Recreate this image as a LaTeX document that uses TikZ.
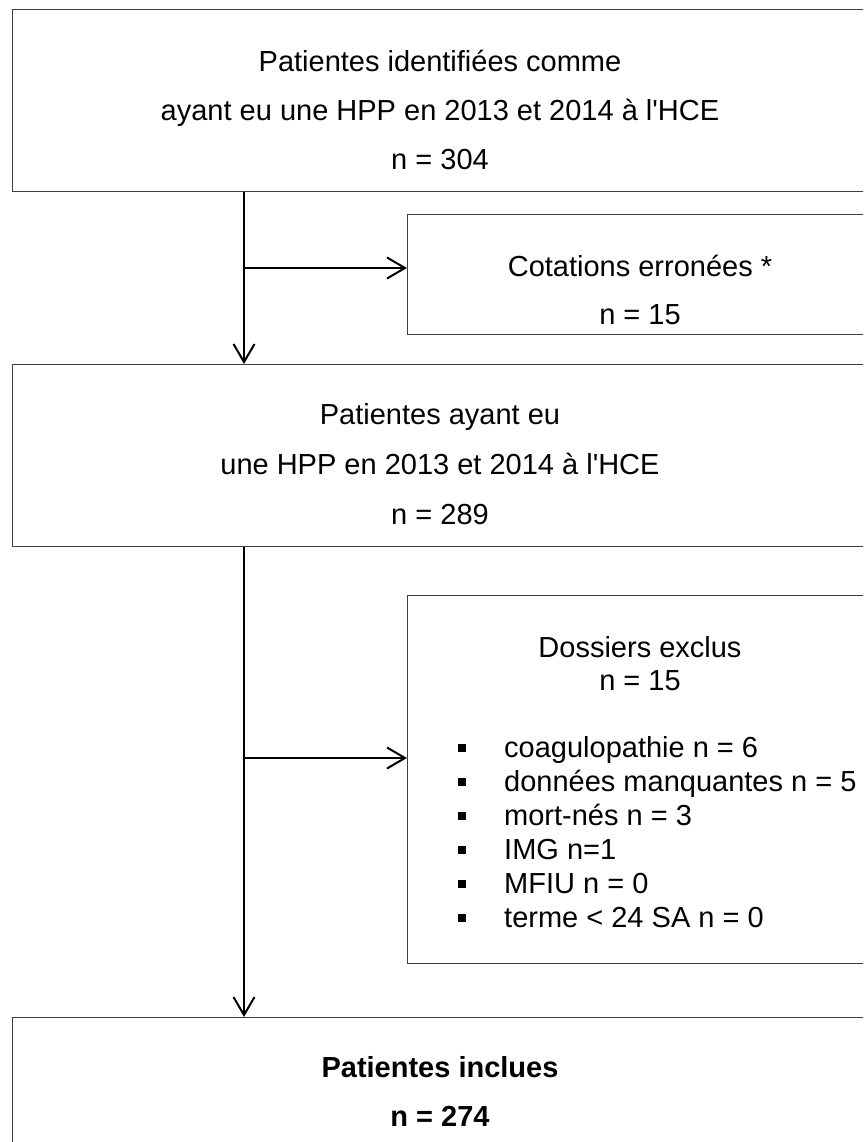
\documentclass[tikz,border=0pt]{standalone}
\usepackage{fontspec}
\newfontfamily\arialf{Liberation Sans}
\usetikzlibrary{arrows.meta}
\begin{document}
\begin{tikzpicture}[x=1pt,y=-1pt,
  box/.style={draw=black!75, line width=1.1pt, inner sep=0pt, anchor=north west, minimum width=858pt},
  txt/.style={font=\arialf\fontsize{29}{34}\selectfont, inner sep=0pt, anchor=base},
  btxt/.style={font=\arialf\bfseries\fontsize{29}{34}\selectfont, inner sep=0pt, anchor=base},
  itemtxt/.style={txt, anchor=base west},
  bullet/.style={fill=black, inner sep=0pt, minimum size=8.5pt},
  link/.style={draw=black, line width=2pt},
  arr/.style={link, -{Straight Barb[length=18pt,width=21pt,line width=2pt]}}]
\useasboundingbox (0,0) rectangle (863,1142);
\clip (0,0) rectangle (863,1142);
% boxes
\node[box, minimum height=182pt] (top) at (12,9) {};
\node[box, minimum height=120pt, minimum width=463pt] (cot) at (407,214) {};
\node[box, minimum height=182pt] (mid) at (12,364) {};
\node[box, minimum height=368pt, minimum width=463pt] (dos) at (407,595) {};
\node[box, minimum height=182pt] (bot) at (12,1017) {};
% texts
\node[txt] (t1) at (440,72) {Patientes identifiées comme};
\node[txt] (t2) at (440,121) {ayant eu une HPP en 2013 et 2014 à l'HCE};
\node[txt] (t3) at (440,170) {n = 304};
\node[txt] (c1) at (640,276) {Cotations erronées *};
\node[txt] (c2) at (640,324) {n = 15};
\node[txt] (m1) at (440,424) {Patientes ayant eu};
\node[txt] (m2) at (440,474) {une HPP en 2013 et 2014 à l'HCE};
\node[txt] (m3) at (440,524) {n = 289};
\node[txt] (d1) at (640,657) {Dossiers exclus};
\node[txt] (d2) at (640,690) {n = 15};
\node[bullet] (b1) at (462,748) {};
\node[bullet] (b2) at (462,782) {};
\node[bullet] (b3) at (462,816) {};
\node[bullet] (b4) at (462,850) {};
\node[bullet] (b5) at (462,884) {};
\node[bullet] (b6) at (462,918) {};
\node[itemtxt] (i1) at (504,757) {coagulopathie n = 6};
\node[itemtxt] (i2) at (504,791) {données manquantes n = 5};
\node[itemtxt] (i3) at (504,825) {mort-nés n = 3};
\node[itemtxt] (i4) at (504,859) {IMG n=1};
\node[itemtxt] (i5) at (504,893) {MFIU n = 0};
\node[itemtxt] (i6) at (504,927) {terme < 24 SA n = 0};
\node[btxt] (f1) at (440,1077) {Patientes inclues};
\node[btxt] (f2) at (440,1126) {n = 274};
% connectors
\coordinate (j1) at (244,268);
\coordinate (j2) at (244,758);
\draw[arr] (top.south -| j1) -- (mid.north -| j1);
\draw[arr] (j1) -- (cot.west |- j1);
\draw[arr] (mid.south -| j2) -- (bot.north -| j2);
\draw[arr] (j2) -- (dos.west |- j2);
\end{tikzpicture}
\end{document}
